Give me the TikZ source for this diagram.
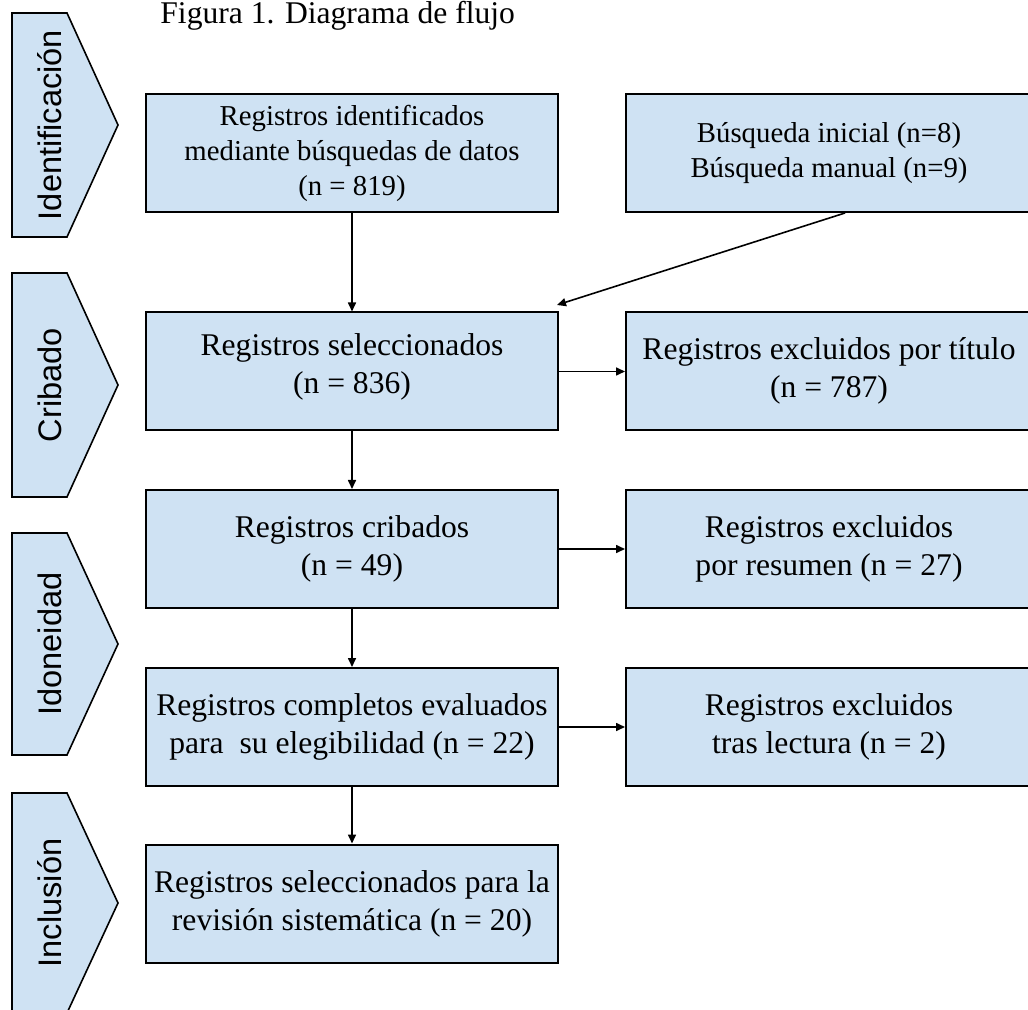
\documentclass[tikz,border=0pt]{standalone}
\usepackage{fontspec}
\setmainfont{Liberation Serif}
\newfontfamily\etapafont{Liberation Sans}
\usetikzlibrary{arrows.meta}
\definecolor{cajaazul}{HTML}{CFE2F3}

\begin{document}
\begin{tikzpicture}[x=0.5pt,y=-0.5pt]
    \pgfmathsetmacro{\colizq}{352}
    \pgfmathsetmacro{\colder}{829}
    \providecommand{\cajafontsize}{\fontsize{15.8pt}{19pt}\selectfont}
    \providecommand{\cajachicafontsize}{\fontsize{14.4pt}{17.5pt}\selectfont}
    \providecommand{\etapafontsize}{\fontsize{16.3pt}{19pt}\selectfont}
    \tikzset{
        caja/.style={draw=black,line width=1pt,fill=cajaazul,minimum height=59pt,inner sep=0pt,align=center,font=\cajafontsize},
        cajaizq/.style={caja,minimum width=206pt},
        cajader/.style={caja,minimum width=203pt},
        cajachica/.style={font=\cajachicafontsize},
        etapa/.style={draw=black,line width=0.8pt,fill=cajaazul,line join=miter},
        flecha/.style={line width=0.8pt,-{Triangle[length=4.5pt,width=4pt]}}
    }
    \useasboundingbox (0,0) rectangle (1028,1010);
    % etapas de la izquierda
    \foreach \arriba/\abajo/\nombre [count=\i] in {13/237/Identificación,273/497/Cribado,533/755/Idoneidad,793/1013/Inclusión}{
        \pgfmathsetmacro{\medio}{(\arriba+\abajo)/2}
        \draw[etapa] (12,\arriba) -- (67,\arriba) -- (118,\medio) -- (67,\abajo) -- (12,\abajo) -- cycle;
        \node[rotate=90,inner sep=0pt,font=\etapafont\etapafontsize] (etapa\i) at (50,\medio) {\nombre};
    }
    \node[anchor=base west,inner sep=0pt,font=\fontsize{15.8pt}{19pt}\selectfont] (titulo) at (160,24) {Figura 1. Diagrama de flujo};
    % cajas
    \node[cajaizq,cajachica] (identificados) at (\colizq,153) {Registros identificados\\mediante búsquedas de datos\\(n = 819)};
    \node[cajader,cajachica] (manual) at (\colder,153) {Búsqueda inicial (n=8)\\Búsqueda manual (n=9)};
    \node[cajaizq] (seleccionados) at (\colizq,371.5) {Registros seleccionados\\(n = 836)\\[-11pt]};
    \node[cajader] (excluidostitulo) at (\colder,371.5) {Registros excluidos por título\\(n = 787)\\[-15pt]};
    \node[cajaizq] (cribados) at (\colizq,549) {Registros cribados\\(n = 49)};
    \node[cajader] (excluidosresumen) at (\colder,549) {Registros excluidos\\por resumen (n = 27)};
    \node[cajaizq] (completos) at (\colizq,727) {Registros completos evaluados\\para\ \ su elegibilidad (n = 22)};
    \node[cajader] (excluidoslectura) at (\colder,727) {Registros excluidos\\tras lectura (n = 2)};
    \node[cajaizq] (incluidos) at (\colizq,903.5) {Registros seleccionados para la\\revisión sistemática (n = 20)};
    % flechas
    \coordinate (llegada) at (557,305);
    \draw[flecha] (identificados) -- (seleccionados);
    \draw[flecha] ([xshift=8pt]manual.south) -- (llegada);
    \draw[flecha] (seleccionados) -- (excluidostitulo);
    \draw[flecha] (seleccionados) -- (cribados);
    \draw[flecha] (cribados) -- (excluidosresumen);
    \draw[flecha] (cribados) -- (completos);
    \draw[flecha] (completos) -- (excluidoslectura);
    \draw[flecha] (completos) -- (incluidos);
\end{tikzpicture}
\end{document}
